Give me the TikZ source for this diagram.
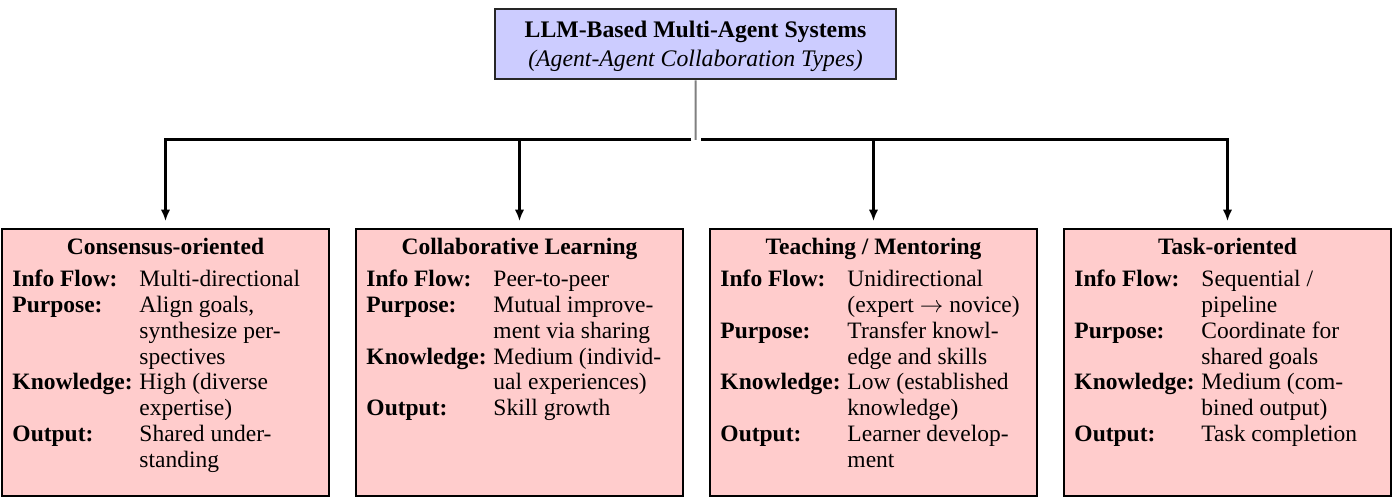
\documentclass[tikz,border=0pt]{standalone}
\usepackage{fontspec}
\setmainfont{Liberation Serif}
\usetikzlibrary{arrows.meta}
\definecolor{catfill}{HTML}{FFCCCC}
\definecolor{topfill}{HTML}{CCCCFF}
\newcommand{\rowfont}{\fontsize{10pt}{11.0pt}\selectfont}
\newcommand{\lab}[1]{\textbf{#1}}
\tikzset{
  catbox/.style={draw=black, fill=catfill, line width=0.85pt, minimum width=139.1pt, minimum height=113.6pt, inner sep=0pt},
  topbox/.style={draw=black!85, fill=topfill, line width=1.1pt, minimum width=170.6pt, minimum height=29.8pt, align=center, inner sep=0pt, font=\fontsize{10.1pt}{11.6pt}\selectfont},
  cattitle/.style={anchor=base, inner sep=0pt, font=\fontsize{10pt}{12pt}\selectfont\bfseries},
  catbody/.style={anchor=base west, inner sep=0pt, font=\rowfont},
  conn/.style={line width=0.9pt, draw=black},
  arr/.style={conn, -{Latex[length=4.8pt, width=4pt]}, shorten >=3pt},
  stem/.style={line width=0.85pt, draw=black!50}
}
\newcommand{\rows}[1]{\begin{tabular}[t]{@{}p{54.04pt}@{}l@{}}#1\end{tabular}}
\begin{document}
\begin{tikzpicture}[x=0.4255pt, y=-0.4255pt]
\useasboundingbox (0,0) rectangle (1398,501);

\node[topbox] (top) at (695.5,44) {\rule{0pt}{9pt}\textbf{LLM-Based Multi-Agent Systems}\\[0.7pt]\textit{(Agent-Agent Collaboration Types)}};

\node[catbox] (c1) at (165.5,362.5) {};
\node[catbox] (c2) at (519.5,362.5) {};
\node[catbox] (c3) at (873.5,362.5) {};
\node[catbox] (c4) at (1227.5,362.5) {};

\node[cattitle] (c1t) at (165.5,255) {Consensus-oriented};
\node[cattitle] (c2t) at (519.5,255) {Collaborative Learning};
\node[cattitle] (c3t) at (873.5,255) {Teaching / Mentoring};
\node[cattitle] (c4t) at (1227.5,255) {Task-oriented};

\node[catbody] (c1b) at (12,286.5) {\rows{%
\lab{Info Flow:} & Multi-directional\\
\lab{Purpose:} & Align goals,\\
 & synthesize per-\\
 & spectives\\
\lab{Knowledge:} & High (diverse\\
 & expertise)\\
\lab{Output:} & Shared under-\\
 & standing}};

\node[catbody] (c2b) at (366,286.5) {\rows{%
\lab{Info Flow:} & Peer-to-peer\\
\lab{Purpose:} & Mutual improve-\\
 & ment via sharing\\
\lab{Knowledge:} & Medium (individ-\\
 & ual experiences)\\
\lab{Output:} & Skill growth}};

\node[catbody] (c3b) at (720,286.5) {\rows{%
\lab{Info Flow:} & Unidirectional\\
 & (expert $\rightarrow$ novice)\\
\lab{Purpose:} & Transfer knowl-\\
 & edge and skills\\
\lab{Knowledge:} & Low (established\\
 & knowledge)\\
\lab{Output:} & Learner develop-\\
 & ment}};

\node[catbody] (c4b) at (1074,286.5) {\rows{%
\lab{Info Flow:} & Sequential /\\
 & pipeline\\
\lab{Purpose:} & Coordinate for\\
 & shared goals\\
\lab{Knowledge:} & Medium (com-\\
 & bined output)\\
\lab{Output:} & Task completion}};

\coordinate (jl) at (691,139.5);
\coordinate (jr) at (701,139.5);
\coordinate (js) at (695.7,140);

\draw[stem] (top.south) -- (js);
\draw[arr] (jl) -| (c1.north);
\draw[arr] (jl) -| (c2.north);
\draw[arr] (jr) -| (c3.north);
\draw[arr] (jr) -| (c4.north);
\end{tikzpicture}
\end{document}
